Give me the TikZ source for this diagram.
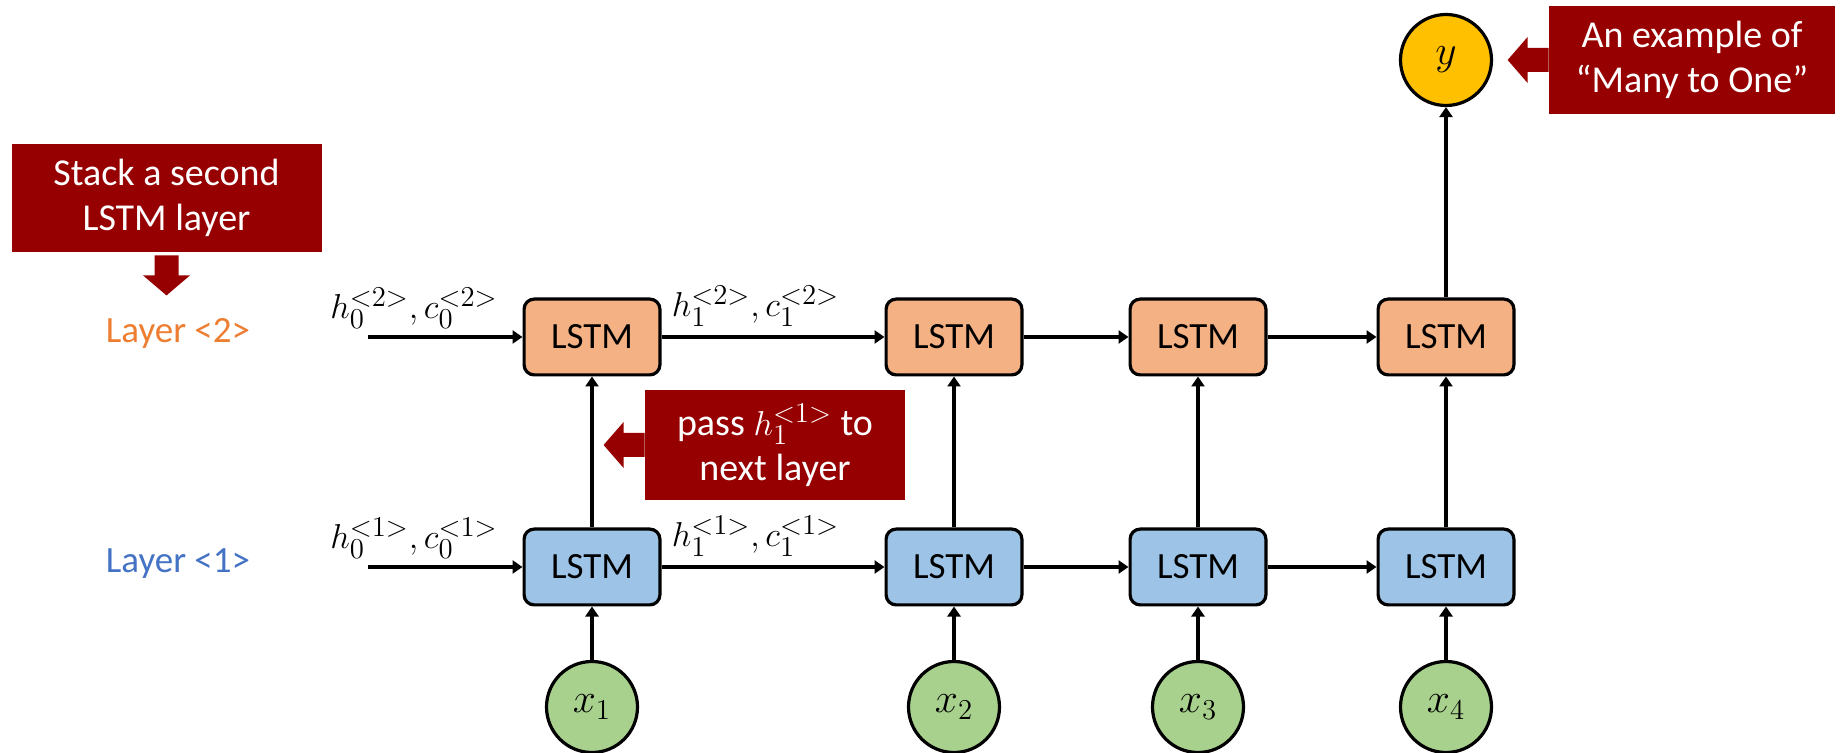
\documentclass[tikz,border=0pt]{standalone}
\usepackage{fontspec}
\setmainfont{Carlito}
\usetikzlibrary{arrows.meta,calc,positioning}
\definecolor{notered}{RGB}{150,0,0}
\definecolor{toporange}{RGB}{244,177,131}
\definecolor{botblue}{RGB}{157,195,230}
\definecolor{ingreen}{RGB}{169,209,142}
\definecolor{outyellow}{RGB}{255,192,0}
\definecolor{txtorange}{RGB}{237,125,49}
\definecolor{txtblue}{RGB}{68,114,196}
\tikzset{cell/.style={rectangle,rounded corners=5pt,draw=black,line width=1.6pt,
minimum width=67.9pt,minimum height=37.9pt,font=\fontsize{18.5}{22}\selectfont},
upper/.style={cell,fill=toporange},
lower/.style={cell,fill=botblue},
inp/.style={circle,draw=black,line width=1.6pt,fill=ingreen,inner sep=0pt,
minimum size=45.5pt,font=\fontsize{21}{24}\selectfont},
outp/.style={inp,fill=outyellow},
note/.style={rectangle,fill=notered,text=white,align=center,inner sep=0pt,
font=\fontsize{19}{22.5}\selectfont},
lbl/.style={anchor=base west,inner sep=0pt,font=\fontsize{19}{20}\selectfont},
layername/.style={anchor=base,inner sep=0pt,font=\fontsize{18.5}{22}\selectfont},
->/.style={-{Triangle[length=5pt,width=6.5pt]},line width=1.6pt}}

\begin{document}
\begin{tikzpicture}[x=0.5pt,y=-0.5pt]
  \useasboundingbox (0,0) rectangle (1843,753);

  % layer <2>
  \node (u1) [upper] at (592,337) {LSTM};
  \node (u2) [upper] at (954,337) {LSTM};
  \node (u3) [upper] at (1198,337) {LSTM};
  \node (u4) [upper] at (1446,337) {LSTM};
  % layer <1>
  \node (d1) [lower] at (592,567) {LSTM};
  \node (d2) [lower] at (954,567) {LSTM};
  \node (d3) [lower] at (1198,567) {LSTM};
  \node (d4) [lower] at (1446,567) {LSTM};
  % inputs and output
  \node (x1) [inp] at (592,707) {$x_1$};
  \node (x2) [inp] at (954,707) {$x_2$};
  \node (x3) [inp] at (1198,707) {$x_3$};
  \node (x4) [inp] at (1446,707) {$x_4$};
  \node (y) [outp] at (1446,60) {$y$};

  \coordinate (in2) at (368,337);
  \coordinate (in1) at (368,567);

  \draw [->] (in2) -- (u1);
  \draw [->] (u1) -- (u2);
  \draw [->] (u2) -- (u3);
  \draw [->] (u3) -- (u4);
  \draw [->] (in1) -- (d1);
  \draw [->] (d1) -- (d2);
  \draw [->] (d2) -- (d3);
  \draw [->] (d3) -- (d4);
  \draw [->] (x1) -- (d1);
  \draw [->] (x2) -- (d2);
  \draw [->] (x3) -- (d3);
  \draw [->] (x4) -- (d4);
  \draw [->] (d1) -- (u1);
  \draw [->] (d2) -- (u2);
  \draw [->] (d3) -- (u3);
  \draw [->] (d4) -- (u4);
  \draw [->] (u4) -- (y);

  \node (lay2) [layername,text=txtorange] at (178,343) {Layer <2>};
  \node (lay1) [layername,text=txtblue] at (178,573) {Layer <1>};
  \node (h02) [lbl] at ($(in2)+(-38,-18)$) {$h_0^{<2>}, c_0^{<2>}$};
  \node (h01) [lbl] at ($(in1)+(-38,-18)$) {$h_0^{<1>}, c_0^{<1>}$};
  \node (h12) [lbl] at ($(u1.east)+(10,-20)$) {$h_1^{<2>}, c_1^{<2>}$};
  \node (h11) [lbl] at ($(d1.east)+(10,-20)$) {$h_1^{<1>}, c_1^{<1>}$};

  % remarks
  \node (stack) [note,minimum width=155pt,minimum height=54pt] at (166.5,198)
    {Stack a second\\LSTM layer};
  \node (pass) [note,minimum width=130pt,minimum height=55pt] at (775,445)
    {pass $h_1^{<1>}$ to\\next layer};
  \node (many) [note,minimum width=143pt,minimum height=54pt] at (1692,60)
    {An example of\\“Many to One”};
  \fill [notered] ($(stack.south)+(-12,3)$) -- ++(24,0) -- ++(0,20) -- ++(11.5,0)
    -- ++(-23.5,20) -- ++(-23.5,-20) -- ++(11.5,0) -- cycle;
  \fill [notered] ($(pass.west)+(0,-12)$) -- ++(-21,0) -- ++(0,-11) -- ++(-20,23)
    -- ++(20,23) -- ++(0,-11) -- ++(21,0) -- cycle;
  \fill [notered] ($(many.west)+(0,-12)$) -- ++(-21,0) -- ++(0,-11) -- ++(-20,23)
    -- ++(20,23) -- ++(0,-11) -- ++(21,0) -- cycle;
\end{tikzpicture}
\end{document}
